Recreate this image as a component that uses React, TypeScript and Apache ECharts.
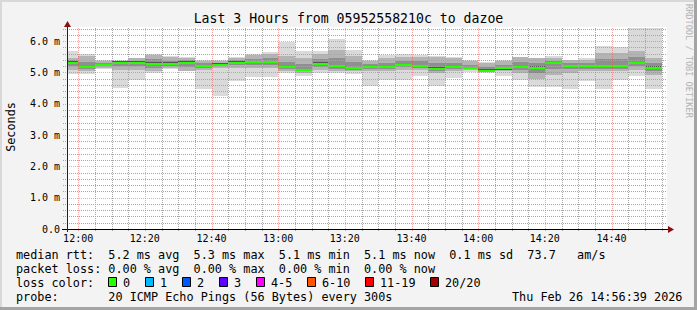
import React, { useEffect, useRef } from "react";
import * as echarts from "echarts";

const TITLE = "Last 3 Hours from 05952558210c to dazoe";
const Y_TITLE = "Seconds";
const START_TIME = "11:56:39";
const END_TIME = "14:56:39";

// end time of each 5-minute step
const slotEnds = [
  "12:00", "12:05", "12:10", "12:15", "12:20", "12:25", "12:30", "12:35", "12:40",
  "12:45", "12:50", "12:55", "13:00", "13:05", "13:10", "13:15", "13:20", "13:25",
  "13:30", "13:35", "13:40", "13:45", "13:50", "13:55", "14:00", "14:05", "14:10",
  "14:15", "14:20", "14:25", "14:30", "14:35", "14:40", "14:45", "14:50", "14:55",
];
// values in ms
const rttMin = [
  4.94, 4.94, 5.12, 4.5, 4.77, 4.98, 5.12, 5.03, 4.48, 4.24, 4.72, 4.85, 4.85, 4.98, 4.87, 4.98, 4.98, 4.94,
  4.56, 4.77, 4.77, 4.88, 4.56, 4.82, 5.01, 4.98, 4.87, 4.77, 4.55, 4.55, 4.48, 4.71, 4.48, 4.77, 4.87, 4.48,
];
const rttInnerLo = [
  5.09, 5.03, 5.14, 5.07, 5.09, 5.03, 5.14, 5.06, 5.09, 5.14, 5.14, 5.14, 5.14, 5.03, 4.98, 5.09, 5.03, 5.03,
  5.03, 5.03, 5.09, 5.09, 4.98, 5.03, 5.09, 5.03, 5.03, 4.98, 4.8, 4.93, 4.98, 5.03, 5.03, 5.03, 5.09, 4.93,
];
const rttMedian = [
  5.31, 5.17, 5.24, 5.31, 5.31, 5.28, 5.28, 5.31, 5.2, 5.25, 5.31, 5.33, 5.33, 5.17, 5.08, 5.28, 5.2, 5.14,
  5.17, 5.17, 5.24, 5.21, 5.12, 5.17, 5.14, 5.06, 5.13, 5.17, 5.15, 5.3, 5.21, 5.21, 5.21, 5.21, 5.3, 5.15,
];
const rttInnerHi = [
  5.46, 5.52, 5.38, 5.38, 5.45, 5.55, 5.48, 5.46, 5.38, 5.38, 5.46, 5.55, 5.6, 5.51, 5.46, 5.6, 5.72, 5.51,
  5.38, 5.46, 5.49, 5.49, 5.49, 5.46, 5.36, 5.3, 5.36, 5.49, 5.47, 5.46, 5.4, 5.4, 5.62, 5.62, 5.67, 5.46,
];
const rttMax = [
  5.67, 5.59, 5.4, 5.4, 5.47, 5.59, 5.51, 5.49, 5.4, 5.4, 5.49, 5.59, 5.65, 5.97, 5.67, 5.67, 6.06, 5.73,
  5.4, 5.54, 5.59, 5.56, 5.51, 5.49, 5.4, 5.33, 5.4, 5.49, 5.47, 5.51, 5.4, 5.45, 5.83, 5.81, 6.41, 6.41,
];
const xTickLabels = ["12:00", "12:20", "12:40", "13:00", "13:20", "13:40", "14:00", "14:20", "14:40"];

const rttStats = ["5.2", "5.3", "5.1", "5.1", "0.1"];
const lossStats = ["0.00", "0.00", "0.00", "0.00"];
const amPerSec = "73.7";
const lossLabels = ["0", "1", "2", "3", "4-5", "6-10", "11-19", "20/20"];
const lossColors = ["#26ff00", "#00b8ff", "#0059ff", "#5e00ff", "#ff00ff", "#ff5500", "#ff0000", "#a10000"];
const probeText = "20 ICMP Echo Pings (56 Bytes) every 300s";
const dateText = "Thu Feb 26 14:56:39 2026";

const toMin = (s: string) => {
  const p = s.split(":").map(Number);
  return (p[0] - 12) * 60 + p[1] + (p[2] || 0) / 60;
};
const fmt = (m: number) => {
  const t = Math.round(m) + 720;
  const h = Math.floor(t / 60);
  const mm = t % 60;
  return `${h}:${mm < 10 ? "0" : ""}${mm}`;
};

const X_MIN = toMin(START_TIME);
const X_MAX = toMin(END_TIME);
const Y_MAX = 6.45;
const STEP = 5;
const MONO = "'DejaVu Sans Mono', monospace";
const MINOR = "#a6a6a6";
const MAJOR = "rgba(232,80,80,0.5)";

export default function App() {
  const ref = useRef<HTMLDivElement>(null);
  useEffect(() => {
    document.body.style.margin = "0";
    if (!ref.current) return;
    const chart = echarts.init(ref.current, undefined, { renderer: "svg" });

    const smokeData = slotEnds.map((e, i) => {
      const end = toMin(e);
      return [end - STEP, end, rttMin[i], rttInnerLo[i], rttMedian[i], rttInnerHi[i], rttMax[i]];
    });

    const smokeRender = (params: any, api: any) => {
      const s = Math.max(api.value(0), X_MIN);
      const e = api.value(1);
      const lo = api.value(2), inLo = api.value(3), med = api.value(4), inHi = api.value(5), hi = api.value(6);
      const xs = Math.round(api.coord([s, 0])[0]);
      const xe = Math.round(api.coord([e, 0])[0]);
      const band = (a: number, b: number, fill: string) => {
        const ya = Math.round(api.coord([s, a])[1]);
        const yb = Math.round(api.coord([s, b])[1]);
        return { type: "rect", shape: { x: xs, y: yb, width: xe - xs, height: Math.max(1, ya - yb) }, style: { fill } };
      };
      const ym = api.coord([s, med])[1];
      return {
        type: "group",
        children: [
          band(lo, hi, "#dadada"),
          band(inLo, inHi, "#b4b4b4"),
          band((inLo + med) / 2, (inHi + med) / 2, "#8f8f8f"),
          band(med - 0.04, med + 0.04, "#555555"),
          { type: "rect", shape: { x: xs, y: Math.round(ym) - 1, width: xe - xs, height: 2 }, style: { fill: lossColors[0] } },
        ],
      };
    };

    const gridRender = (params: any, api: any) => {
      const yb = api.coord([X_MIN, 0])[1];
      const yt = api.coord([X_MIN, Y_MAX])[1];
      const xl = api.coord([X_MIN, 0])[0];
      const xr = api.coord([X_MAX, 0])[0];
      const minorLines: any[] = [];
      const majorLines: any[] = [];
      for (let m = 0; m < X_MAX; m += 5) {
        const x = Math.round(api.coord([m, 0])[0]) + 0.5;
        const line = { type: "line", shape: { x1: x, y1: yb + 2, x2: x, y2: yt }, style: { stroke: m % 20 === 0 ? MAJOR : MINOR, lineWidth: 1, lineDash: [1, 1] } };
        (m % 20 === 0 ? majorLines : minorLines).push(line);
      }
      for (let k = 1; k * 0.2 < Y_MAX; k++) {
        const y = Math.round(api.coord([X_MIN, k * 0.2])[1]) + 0.5;
        const line = { type: "line", shape: { x1: xl - 4, y1: y, x2: xr, y2: y }, style: { stroke: k % 5 === 0 ? MAJOR : MINOR, lineWidth: 1, lineDash: [1, 1] } };
        (k % 5 === 0 ? majorLines : minorLines).push(line);
      }
      return { type: "group", children: [...minorLines, ...majorLines] };
    };

    const line1 =
      `median rtt:  ${rttStats[0]} ms avg  ${rttStats[1]} ms max  ${rttStats[2]} ms min  ${rttStats[3]} ms now  ${rttStats[4]} ms sd  ${amPerSec}   am/s`;
    const line2 = `packet loss: ${lossStats[0]} % avg  ${lossStats[1]} % max  ${lossStats[2]} % min  ${lossStats[3]} % now`;
    const boxX = [108, 145, 182, 219, 256, 307, 365, 430];
    const legendFont = { fontFamily: MONO, fontSize: 11.8, fill: "#000", textVerticalAlign: "middle" };

    const graphics: any[] = [
      { type: "rect", shape: { x: 0, y: 0, width: 697, height: 2 }, style: { fill: "#d8d8d8" }, silent: true },
      { type: "rect", shape: { x: 0, y: 0, width: 2, height: 310 }, style: { fill: "#d8d8d8" }, silent: true },
      { type: "rect", shape: { x: 0, y: 307, width: 697, height: 3 }, style: { fill: "#a4a4a4" }, silent: true },
      { type: "rect", shape: { x: 694, y: 0, width: 3, height: 310 }, style: { fill: "#a4a4a4" }, silent: true },
      { type: "line", shape: { x1: 62, y1: 229.5, x2: 668, y2: 229.5 }, style: { stroke: "#000", lineWidth: 1 }, z: 10 },
      { type: "line", shape: { x1: 67.5, y1: 232, x2: 67.5, y2: 26 }, style: { stroke: "#222", lineWidth: 1 }, z: 10 },
      { type: "polygon", shape: { points: [[668, 226], [668, 233], [674, 229.5]] }, style: { fill: "#8b1010" }, z: 10 },
      { type: "polygon", shape: { points: [[64, 27], [71, 27], [67.5, 21]] }, style: { fill: "#8b1010" }, z: 10 },
      {
        type: "text", x: 689, y: 4, rotation: -Math.PI / 2,
        style: { text: "RRDTOOL / TOBI OETIKER", fontFamily: MONO, fontSize: 8.6, fill: "#b4b4b4", textAlign: "left", textVerticalAlign: "middle" },
      },
      {
        type: "text", x: 11, y: 127, rotation: Math.PI / 2,
        style: { text: Y_TITLE, fontFamily: MONO, fontSize: 11.8, fill: "#000", textAlign: "center", textVerticalAlign: "middle" },
      },
      { type: "text", x: 16, y: 254.5, style: { ...legendFont, text: line1 } },
      { type: "text", x: 16, y: 268.5, style: { ...legendFont, text: line2 } },
      { type: "text", x: 16, y: 282.5, style: { ...legendFont, text: "loss color:" } },
      { type: "text", x: 16, y: 296.5, style: { ...legendFont, text: "probe:       " + probeText } },
      { type: "text", x: 512, y: 296.5, style: { ...legendFont, text: dateText } },
    ];
    lossLabels.forEach((lab, i) => {
      graphics.push({ type: "rect", shape: { x: boxX[i] + 0.5, y: 277.5, width: 8, height: 9 }, style: { fill: lossColors[i], stroke: "#000", lineWidth: 1 } });
      graphics.push({ type: "text", x: boxX[i] + 15, y: 282.5, style: { ...legendFont, text: lab } });
    });

    const xTickValues = xTickLabels.map(toMin);

    chart.setOption({
      animation: false,
      backgroundColor: "#f3f3f3",
      title: {
        text: TITLE,
        left: "center",
        top: 12,
        padding: 0,
        textStyle: { fontFamily: MONO, fontSize: 13.2, fontWeight: "normal", color: "#000" },
      },
      grid: { left: 67, top: 27, width: 600, height: 202, show: true, backgroundColor: "#ffffff", borderWidth: 0 },
      xAxis: {
        type: "value",
        min: X_MIN,
        max: X_MAX,
        axisLine: { show: false },
        splitLine: { show: false },
        axisTick: { show: false },
        axisLabel: {
          customValues: xTickValues,
          formatter: (v: number) => fmt(v),
          fontFamily: MONO,
          fontSize: 10,
          color: "#000",
          margin: 4,
        },
      },
      yAxis: {
        type: "value",
        min: 0,
        max: Y_MAX,
        interval: 1,
        axisLine: { show: false },
        axisTick: { show: false },
        splitLine: { show: false },
        axisLabel: {
          showMaxLabel: false,
          overflow: "none",
          formatter: (v: number) => (Math.abs(v - Math.round(v)) > 1e-6 ? "" : v === 0 ? "0.0" : v.toFixed(1) + " m"),
          fontFamily: MONO,
          fontSize: 10,
          color: "#000",
          margin: 7,
        },
      },
      series: [
        {
          type: "custom",
          name: "smoke",
          renderItem: smokeRender,
          data: smokeData,
          encode: { x: [0, 1], y: [2, 6] },
          z: 2,
          silent: true,
        },
        {
          type: "custom",
          name: "grid",
          renderItem: gridRender,
          data: [[0, 0]],
          z: 3,
          silent: true,
        },
      ],
      graphic: graphics,
    });
    return () => chart.dispose();
  }, []);
  return <div ref={ref} style={{ width: 697, height: 310 }} />;
}
